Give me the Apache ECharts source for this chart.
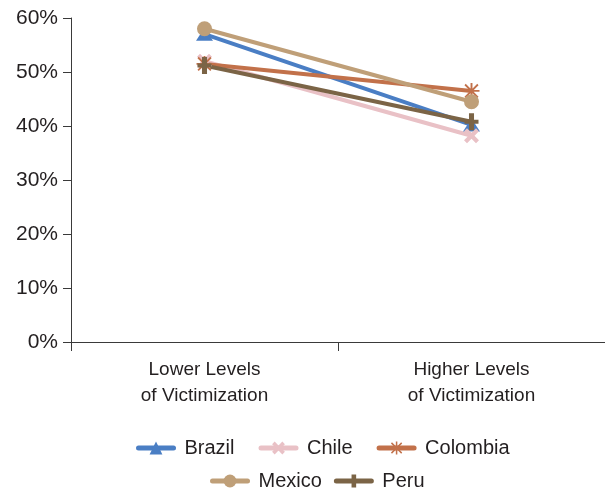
<!DOCTYPE html>
<html><head><meta charset="utf-8">
<script src="https://cdn.jsdelivr.net/npm/echarts@6/dist/echarts.min.js"></script>
<style>html,body{margin:0;padding:0;background:#fff}#c{width:605px;height:491px}</style>
</head><body><div id="c"></div>
<script>
const categories = ['Lower Levels\nof Victimization', 'Higher Levels\nof Victimization'];
const yTicks = [0, 10, 20, 30, 40, 50, 60];
const brazil = [57.0, 40.2];
const chile = [52.0, 38.2];
const colombia = [51.5, 46.5];
const mexico = [58.0, 44.5];
const peru = [51.2, 40.8];

const FONT = 'Liberation Sans';
const TXT = '#231f20';

const SYM_X = 'path://M0,2 L2,0 L5,3 L8,0 L10,2 L7,5 L10,8 L8,10 L5,7 L2,10 L0,8 L3,5 Z';
const SYM_STAR = 'path://M4.4,0 L5.6,0 L5.6,10 L4.4,10 Z M0.6,1.4 L1.4,0.6 L9.4,8.6 L8.6,9.4 Z M8.6,0.6 L9.4,1.4 L1.4,9.4 L0.6,8.6 Z M0,4.4 L10,4.4 L10,5.6 L0,5.6 Z';
const SYM_PLUS = 'path://M3.2,0 L6.8,0 L6.8,3.8 L10,3.8 L10,6.2 L6.8,6.2 L6.8,10 L3.2,10 L3.2,6.2 L0,6.2 L0,3.8 L3.2,3.8 Z';

function s(name, data, color, symbol, size) {
  return {
    name, type: 'line', data, symbol, symbolSize: size, showSymbol: true,
    lineStyle: { color, width: 4, cap: 'round' }, itemStyle: { color },
    emphasis: { disabled: true }, z: 2
  };
}

const legendText = { fontFamily: FONT, fontSize: 20, color: TXT, padding: [0, 0, 0, 6] };
const chart = echarts.init(document.getElementById('c'), null, { renderer: 'canvas' });
chart.setOption({
  animation: false,
  grid: { left: 71, right: 0, top: 18, bottom: 149, containLabel: false },
  legend: [
    { data: ['Brazil', 'Chile', 'Colombia'], left: 136, top: 438, padding: 0, itemWidth: 35, itemHeight: 16, itemGap: 24,
      lineStyle: { width: 5, cap: 'round' }, textStyle: legendText },
    { data: ['Mexico', 'Peru'], left: 210, top: 471, padding: 0, itemWidth: 35, itemHeight: 16, itemGap: 12,
      lineStyle: { width: 5, cap: 'round' }, textStyle: legendText }
  ],
  xAxis: {
    type: 'category', data: categories, boundaryGap: true,
    axisLine: { lineStyle: { color: '#3a3a3a', width: 1 } },
    axisTick: { show: true, length: 9, interval: 0, lineStyle: { color: '#3a3a3a' } },
    axisLabel: { fontFamily: FONT, fontSize: 19, color: TXT, lineHeight: 26, margin: 15, interval: 0 }
  },
  yAxis: {
    type: 'value', min: 0, max: 60, interval: 10,
    axisLine: { show: true, lineStyle: { color: '#3a3a3a', width: 1 } },
    axisTick: { show: true, length: 8, lineStyle: { color: '#3a3a3a' } },
    splitLine: { show: false },
    axisLabel: { fontFamily: FONT, fontSize: 21, color: TXT, margin: 13,
      formatter: v => yTicks.includes(v) ? v + '%' : '' }
  },
  series: [
    s('Brazil', brazil, '#4a7ec4', 'triangle', [17, 13]),
    s('Chile', chile, '#e9c1c6', SYM_X, 15),
    s('Colombia', colombia, '#c2714a', SYM_STAR, 16),
    s('Mexico', mexico, '#bf9f78', 'circle', 15),
    s('Peru', peru, '#7b6446', SYM_PLUS, [14, 17])
  ]
});
</script></body></html>
